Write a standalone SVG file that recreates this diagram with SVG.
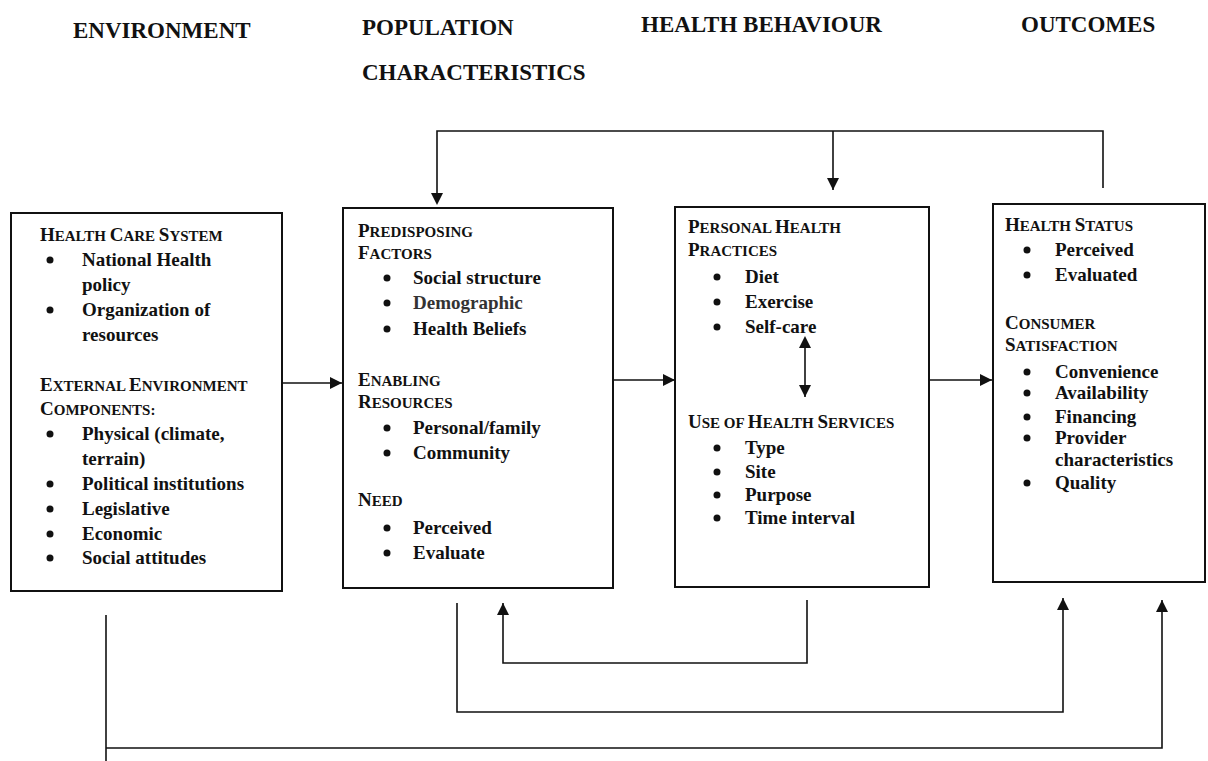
<svg xmlns="http://www.w3.org/2000/svg" width="1208" height="761" viewBox="0 0 1208 761">
<defs>
<style>
.hdr{font-family:"Liberation Serif","Times New Roman",serif;font-weight:bold;font-size:23px;fill:#111}
.t{font-family:"Liberation Serif","Times New Roman",serif;font-weight:bold;font-size:19px;fill:#111}
.sc{font-size:15px}
.box{fill:#fff;stroke:#111;stroke-width:2}
.ln{fill:none;stroke:#111;stroke-width:1.6}
.dot{fill:#111}
</style>
<marker id="ah" viewBox="0 0 12 12" refX="12" refY="6" markerWidth="12" markerHeight="12" markerUnits="userSpaceOnUse" orient="auto">
<path d="M0,0 L12,6 L0,12 Z" fill="#111"/>
</marker>
<marker id="ahs" viewBox="0 0 12 12" refX="0" refY="6" markerWidth="12" markerHeight="12" markerUnits="userSpaceOnUse" orient="auto-start-reverse">
<path d="M0,0 L12,6 L0,12 Z" fill="#111"/>
</marker>
</defs>
<rect width="1208" height="761" fill="#fff"/>

<g id="headers">
<text class="hdr" x="73" y="38">ENVIRONMENT</text>
<text class="hdr" x="362" y="35">POPULATION</text>
<text class="hdr" x="362" y="80">CHARACTERISTICS</text>
<text class="hdr" x="641" y="32">HEALTH BEHAVIOUR</text>
<text class="hdr" x="1021" y="32">OUTCOMES</text>
</g>

<g id="environment">
<rect class="box" x="11" y="213" width="271" height="378"/>
<text class="t" x="40" y="241">H<tspan class="sc">EALTH </tspan>C<tspan class="sc">ARE </tspan>S<tspan class="sc">YSTEM</tspan></text>
<circle class="dot" cx="50" cy="260" r="3.5"/><text class="t" x="82" y="266">National Health</text>
<text class="t" x="82" y="291">policy</text>
<circle class="dot" cx="50" cy="310" r="3.5"/><text class="t" x="82" y="316">Organization of</text>
<text class="t" x="82" y="341">resources</text>
<text class="t" x="40" y="391">E<tspan class="sc">XTERNAL </tspan>E<tspan class="sc">NVIRONMENT</tspan></text>
<text class="t" x="40" y="415">C<tspan class="sc">OMPONENTS:</tspan></text>
<circle class="dot" cx="50" cy="434" r="3.5"/><text class="t" x="82" y="440">Physical (climate,</text>
<text class="t" x="82" y="465">terrain)</text>
<circle class="dot" cx="50" cy="484" r="3.5"/><text class="t" x="82" y="490">Political institutions</text>
<circle class="dot" cx="50" cy="509" r="3.5"/><text class="t" x="82" y="515">Legislative</text>
<circle class="dot" cx="50" cy="534" r="3.5"/><text class="t" x="82" y="540">Economic</text>
<circle class="dot" cx="50" cy="558" r="3.5"/><text class="t" x="82" y="564">Social attitudes</text>
</g>

<g id="population">
<rect class="box" x="343" y="208" width="270" height="380"/>
<text class="t" x="358" y="237">P<tspan class="sc">REDISPOSING</tspan></text>
<text class="t" x="358" y="259">F<tspan class="sc">ACTORS</tspan></text>
<circle class="dot" cx="387" cy="278" r="3.5"/><text class="t" x="413" y="284">Social structure</text>
<circle class="dot" cx="387" cy="303" r="3.5"/><text class="t" x="413" y="309" style="fill:#333">Demographic</text>
<circle class="dot" cx="387" cy="329" r="3.5"/><text class="t" x="413" y="335">Health Beliefs</text>
<text class="t" x="358" y="386">E<tspan class="sc">NABLING</tspan></text>
<text class="t" x="358" y="408">R<tspan class="sc">ESOURCES</tspan></text>
<circle class="dot" cx="387" cy="428" r="3.5"/><text class="t" x="413" y="434">Personal/family</text>
<circle class="dot" cx="387" cy="453" r="3.5"/><text class="t" x="413" y="459">Community</text>
<text class="t" x="358" y="506">N<tspan class="sc">EED</tspan></text>
<circle class="dot" cx="387" cy="528" r="3.5"/><text class="t" x="413" y="534">Perceived</text>
<circle class="dot" cx="387" cy="553" r="3.5"/><text class="t" x="413" y="559">Evaluate</text>
</g>

<g id="behaviour">
<rect class="box" x="675" y="207" width="254" height="380"/>
<text class="t" x="688" y="233">P<tspan class="sc">ERSONAL </tspan>H<tspan class="sc">EALTH</tspan></text>
<text class="t" x="688" y="256">P<tspan class="sc">RACTICES</tspan></text>
<circle class="dot" cx="717" cy="277" r="3.5"/><text class="t" x="745" y="283">Diet</text>
<circle class="dot" cx="717" cy="302" r="3.5"/><text class="t" x="745" y="308">Exercise</text>
<circle class="dot" cx="717" cy="327" r="3.5"/><text class="t" x="745" y="333">Self-care</text>
<text class="t" x="688" y="428">U<tspan class="sc">SE OF </tspan>H<tspan class="sc">EALTH </tspan>S<tspan class="sc">ERVICES</tspan></text>
<circle class="dot" cx="717" cy="448" r="3.5"/><text class="t" x="745" y="454">Type</text>
<circle class="dot" cx="717" cy="472" r="3.5"/><text class="t" x="745" y="478">Site</text>
<circle class="dot" cx="717" cy="495" r="3.5"/><text class="t" x="745" y="501">Purpose</text>
<circle class="dot" cx="717" cy="518" r="3.5"/><text class="t" x="745" y="524">Time interval</text>
</g>

<g id="outcomes">
<rect class="box" x="993" y="204" width="212" height="378"/>
<text class="t" x="1005" y="231">H<tspan class="sc">EALTH </tspan>S<tspan class="sc">TATUS</tspan></text>
<circle class="dot" cx="1027" cy="250" r="3.5"/><text class="t" x="1055" y="256">Perceived</text>
<circle class="dot" cx="1027" cy="275" r="3.5"/><text class="t" x="1055" y="281">Evaluated</text>
<text class="t" x="1005" y="329">C<tspan class="sc">ONSUMER</tspan></text>
<text class="t" x="1005" y="351">S<tspan class="sc">ATISFACTION</tspan></text>
<circle class="dot" cx="1027" cy="372" r="3.5"/><text class="t" x="1055" y="378">Convenience</text>
<circle class="dot" cx="1027" cy="393" r="3.5"/><text class="t" x="1055" y="399">Availability</text>
<circle class="dot" cx="1027" cy="417" r="3.5"/><text class="t" x="1055" y="423">Financing</text>
<circle class="dot" cx="1027" cy="438" r="3.5"/><text class="t" x="1055" y="444">Provider</text>
<text class="t" x="1055" y="466">characteristics</text>
<circle class="dot" cx="1027" cy="483" r="3.5"/><text class="t" x="1055" y="489">Quality</text>
</g>

<g id="connectors">
<polyline class="ln" points="437,193 437,131 1103,131 1103,188" marker-start="url(#ahs)"/>
<line class="ln" x1="833" y1="131" x2="833" y2="190" marker-end="url(#ah)"/>
<line class="ln" x1="282" y1="383" x2="342" y2="383" marker-end="url(#ah)"/>
<line class="ln" x1="613" y1="380" x2="675" y2="380" marker-end="url(#ah)"/>
<line class="ln" x1="929" y1="380" x2="992" y2="380" marker-end="url(#ah)"/>
<line class="ln" x1="805" y1="348" x2="805" y2="397" marker-start="url(#ahs)" marker-end="url(#ah)"/>
<polyline class="ln" points="807,600 807,663 503,663 503,603" marker-end="url(#ah)"/>
<polyline class="ln" points="457,603 457,712 1063,712 1063,598" marker-end="url(#ah)"/>
<line class="ln" x1="106" y1="615" x2="106" y2="761"/>
<polyline class="ln" points="106,748 1162,748 1162,600" marker-end="url(#ah)"/>
</g>
</svg>
